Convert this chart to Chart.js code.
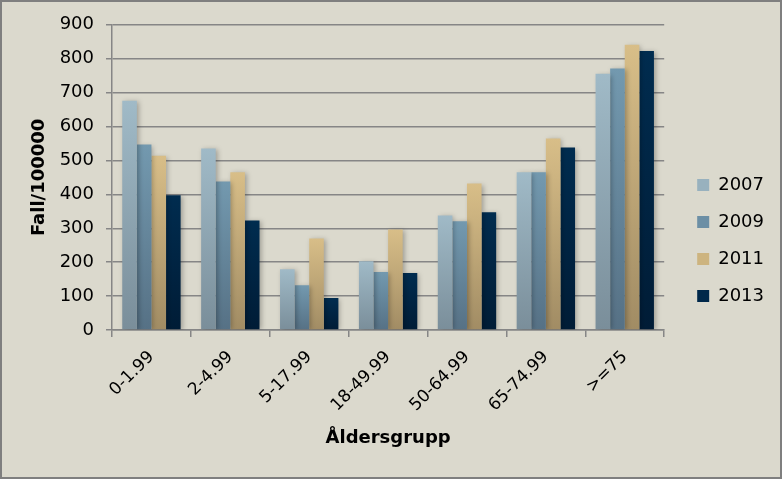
<!DOCTYPE html>
<html>
<head>
<meta charset="utf-8">
<script src="https://cdn.jsdelivr.net/npm/chart.js@4/dist/chart.umd.min.js"></script>
<style>
  html, body { margin: 0; padding: 0; background: #dbd9cd; }
  #wrap { position: relative; width: 778px; height: 475px; border: 2px solid #7f7f7f; background: #dbd9cd; }
</style>
</head>
<body>
<div id="wrap"><canvas id="chartBar"></canvas></div>
<script>
const ageGroups = ["0-1.99", "2-4.99", "5-17.99", "18-49.99", "50-64.99", "65-74.99", ">=75"];
const years = ["2007", "2009", "2011", "2013"];
const rate2007 = [676, 535, 179, 203, 338, 465, 756];
const rate2009 = [547, 438, 132, 171, 321, 465, 771];
const rate2011 = [514, 465, 270, 296, 432, 565, 841];
const rate2013 = [397, 323, 94, 168, 347, 538, 823];
const yMin = 0, yMax = 900, yStep = 100;

// top / bottom colour of each bar's gradient
const shades = [
    ['#a0bac7', '#7a8e9a'],
    ['#7399af', '#567185'],
    ['#d8be88', '#a18c64'],
    ['#002c4f', '#001c36'],
];
const legendFill = ['#98b1be', '#6c8fa5', '#cdb47f', '#00284a'];

function barFill(i) {
    return function(ctx) {
        const chart = ctx.chart;
        if (!chart.chartArea || ctx.type !== 'data') return shades[i][0];
        const y = chart.scales.y;
        const top = y.getPixelForValue(ctx.raw);
        const bot = y.getPixelForValue(0);
        const g = chart.ctx.createLinearGradient(0, top, 0, bot);
        g.addColorStop(0, shades[i][0]);
        g.addColorStop(1, shades[i][1]);
        return g;
    };
}

const series = [rate2007, rate2009, rate2011, rate2013];
const gridColor = '#868686';
const font = "'DejaVu Sans', sans-serif";

const barShadow = {
    id: 'barShadow',
    beforeDatasetsDraw(chart) {
        const c = chart.ctx;
        c.save();
        c.shadowColor = 'rgba(0,0,0,0.28)';
        c.shadowBlur = 5;
        c.shadowOffsetX = 2;
        c.shadowOffsetY = 1;
    },
    afterDatasetsDraw(chart) {
        chart.ctx.restore();
    }
};

var chartBar = new Chart(document.getElementById('chartBar'), {
    type: 'bar',
    data: {
        labels: ageGroups,
        datasets: series.map((d, i) => ({
            label: years[i],
            data: d,
            backgroundColor: barFill(i),
            borderWidth: 0,
            categoryPercentage: 0.74,
            barPercentage: 1.0,
        })),
    },
    options: {
        responsive: true,
        maintainAspectRatio: false,
        devicePixelRatio: 1,
        animation: false,
        layout: { padding: { top: 22, right: 6, bottom: 20, left: 0 } },
        plugins: {
            legend: {
                position: 'right',
                labels: {
                    font: { family: font, size: 18 },
                    color: '#000',
                    boxWidth: 12,
                    boxHeight: 12,
                    padding: 19,
                    generateLabels: chart => chart.data.datasets.map((ds, i) => ({
                        text: ds.label,
                        fillStyle: legendFill[i],
                        strokeStyle: 'rgba(0,0,0,0)',
                        lineWidth: 0,
                        hidden: false,
                        datasetIndex: i,
                        fontColor: '#000',
                    })),
                },
            },
            tooltip: { enabled: false },
        },
        scales: {
            x: {
                grid: { drawOnChartArea: false, color: gridColor, lineWidth: 1.5, tickLength: 7 },
                border: { color: gridColor, width: 1.5 },
                ticks: {
                    autoSkip: false, maxRotation: 45, minRotation: 45,
                    font: { family: font, size: 17 }, color: '#000', padding: 10,
                },
                title: {
                    display: true, text: 'Åldersgrupp',
                    font: { family: font, size: 18, weight: 'bold' }, color: '#000',
                    padding: { top: 0, bottom: 8 },
                },
                afterFit: s => { s.height = 127; },
            },
            y: {
                min: yMin, max: yMax,
                grid: { color: gridColor, lineWidth: 1.5, tickLength: 6 },
                border: { color: gridColor, width: 1.5 },
                ticks: { stepSize: yStep, font: { family: font, size: 18 }, color: '#000', padding: 12 },
                title: {
                    display: true, text: 'Fall/100000',
                    font: { family: font, size: 18, weight: 'bold' }, color: '#000',
                    padding: { top: 27, bottom: 0 },
                },
                afterFit: s => { s.width = 110; },
            },
            gap: {
                position: 'right',
                display: true,
                grid: { display: false },
                border: { display: false },
                ticks: { display: false },
                afterFit: s => { s.width = 14; },
            },
        },
    },
    plugins: [barShadow],
});
</script>
</body>
</html>
